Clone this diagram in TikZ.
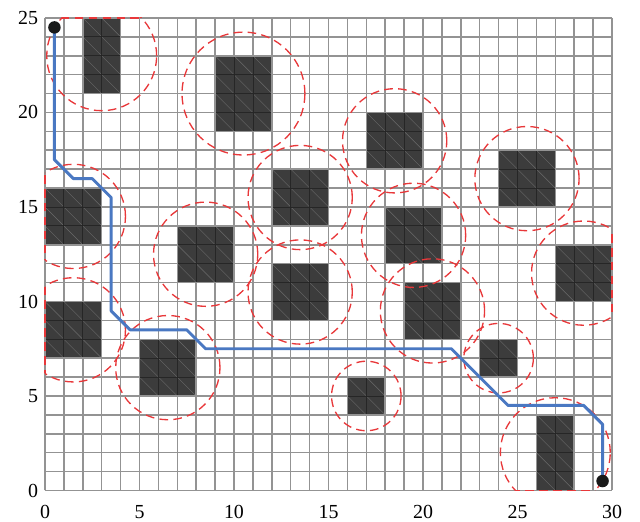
\documentclass[tikz,border=0pt]{standalone}
\usepackage{fontspec}
\setmainfont{Liberation Serif}
\usepackage{xcolor}
\usepackage{tikz}
\usetikzlibrary{positioning,calc}
\definecolor{gridgray}{HTML}{939393}
\definecolor{obstfill}{HTML}{3C3C3C}
\definecolor{zonered}{HTML}{E8383A}
\definecolor{routeblue}{HTML}{4A78C2}

\begin{document}
\begin{tikzpicture}[scale=0.5, font=\fontsize{15}{18}\selectfont,
  gridline/.style={draw=gridgray, line width=1.15pt},
  obst/.style={fill=obstfill},
  cellline/.style={draw=black!85, line width=0.6pt},
  diag/.style={draw=gray!70!obstfill, line width=0.3pt},
  zone/.style={draw=zonered, dash pattern=on 6.5pt off 4pt, line width=1pt},
  route/.style={draw=routeblue, line width=2.2pt, line join=round},
  dot/.style={fill=black!90},
  ticklabel/.style={inner sep=0pt}]
\useasboundingbox (-2.38,-1.64) rectangle (31.48,25.95);
\draw[gridline] (0,0) grid (30,25);
\foreach \x/\y/\w/\h in {2/21/2/4, 9/19/3/4, 17/17/3/3, 24/15/3/3, 0/13/3/3, 12/14/3/3,
    7/11/3/3, 18/12/3/3, 27/10/3/3, 12/9/3/3, 19/8/3/3, 0/7/3/3, 5/5/3/3, 23/6/2/2,
    16/4/2/2, 26/0/2/4}{
  \fill[obst] (\x,\y) rectangle ++(\w,\h);
  \foreach \i in {1,...,\w}
    \foreach \j in {1,...,\h}
      \draw[diag] (\x+\i-1,\y+\j) -- ++(1,-1);
  \draw[cellline] (\x,\y) grid ++(\w,\h);
  \draw[gridline] (\x,\y) rectangle ++(\w,\h);
}
\foreach \x/\y/\w/\h in {2/21/2/4, 9/19/3/4, 17/17/3/3, 24/15/3/3, 0/13/3/3, 12/14/3/3,
    7/11/3/3, 18/12/3/3, 27/10/3/3, 12/9/3/3, 19/8/3/3, 0/7/3/3, 5/5/3/3, 23/6/2/2,
    16/4/2/2, 26/0/2/4}{
  \pgfmathsetmacro{\r}{0.65*sqrt(\w*\w+\h*\h)}
  \begin{scope}
    \clip (0,0) rectangle (30,25);
    \draw[zone] (\x+\w/2,\y+\h/2) circle (\r);
  \end{scope}
  \begin{scope}
    \clip (\x+\w/2,\y+\h/2) circle (\r);
    \draw[zone] (0,0) rectangle (30,25);
  \end{scope}
}
\coordinate (start) at (0.5,24.5);
\coordinate (goal) at (29.5,0.5);
\draw[route] (start) -- (0.5,17.5) -- (1.5,16.5) -- (2.5,16.5) -- (3.5,15.5) -- (3.5,9.5)
  -- (4.5,8.5) -- (7.5,8.5) -- (8.5,7.5) -- (21.5,7.5) -- (24.5,4.5) -- (28.5,4.5)
  -- (29.5,3.5) -- (goal);
\fill[dot] (start) circle (0.33);
\fill[dot] (goal) circle (0.33);
\foreach \v in {0,5,...,30}
  \node[ticklabel] (xl\v) at (\v,-1.14) {\v};
\foreach \v in {0,5,...,25}
  \node[ticklabel, anchor=east] (yl\v) at (-0.35,\v) {\v};
\end{tikzpicture}
\end{document}
